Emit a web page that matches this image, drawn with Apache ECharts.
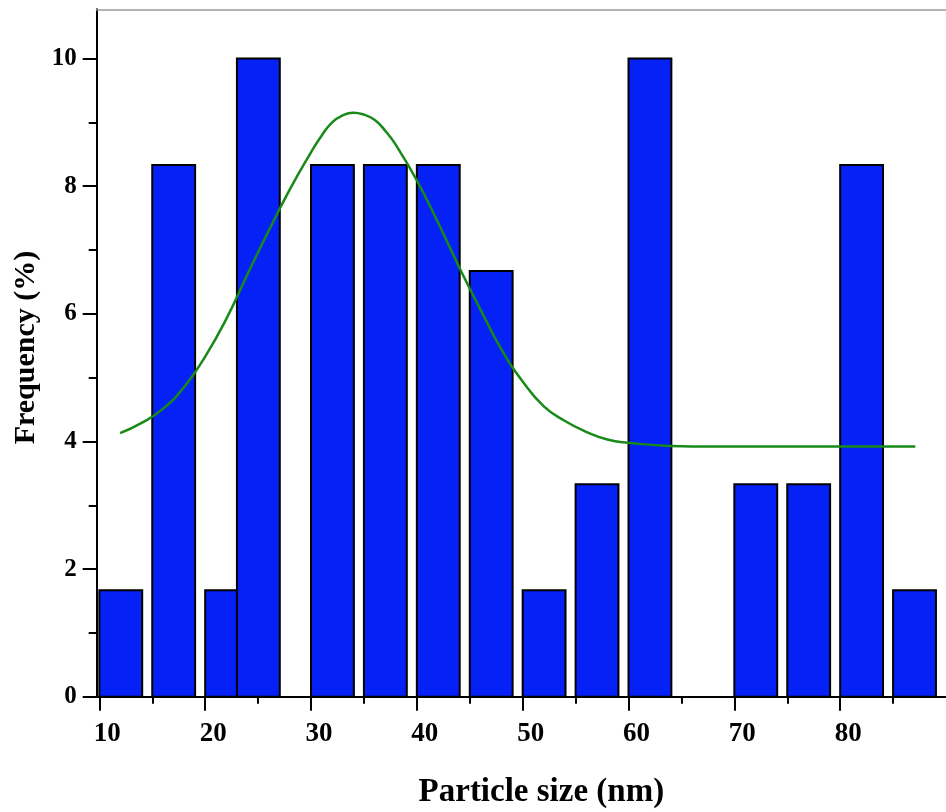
<!DOCTYPE html>
<html>
<head>
<meta charset="utf-8">
<title>Particle size distribution</title>
<script src="https://cdn.jsdelivr.net/npm/echarts@6/dist/echarts.min.js"></script>
<style>
  html, body { margin: 0; padding: 0; background: #ffffff; }
  #chart { width: 946px; height: 812px; }
</style>
</head>
<body>
<div id="chart"></div>
<script>
// Histogram bins: left edge, right edge (nm) and frequency (%)
const binStart = [10, 15, 20, 23, 30, 35, 40, 45, 50, 55, 60, 70, 75, 80, 85];
const binEnd   = [14.05, 19.05, 24.05, 27.05, 34.05, 39.05, 44.05, 49.05, 54.05, 59.05, 64.05, 74.05, 79.05, 84.05, 89.05];
const frequency = [1.67, 8.33, 1.67, 10, 8.33, 8.33, 8.33, 6.67, 1.67, 3.33, 10, 3.33, 3.33, 8.33, 1.67];

// Fitted distribution curve, sampled points
const curveX = [11.96, 14, 16, 18, 20, 22, 24, 26, 28, 30, 31, 32, 33, 34, 35, 36, 37, 38, 40, 42, 44, 46, 48, 50, 52, 54, 56, 58, 60, 64, 68, 87.1];
const curveY = [4.13, 4.29, 4.51, 4.85, 5.33, 5.92, 6.62, 7.30, 7.95, 8.53, 8.79, 9.00, 9.11, 9.15, 9.12, 9.04, 8.87, 8.65, 8.09, 7.43, 6.73, 6.07, 5.44, 4.94, 4.55, 4.32, 4.15, 4.03, 3.98, 3.93, 3.92, 3.92];

// Axis ticks and labels
const xMajorTicks = [10, 20, 30, 40, 50, 60, 70, 80];
const xMinorTicks = [15, 25, 35, 45, 55, 65, 75, 85];
const yMajorTicks = [0, 2, 4, 6, 8, 10];
const yMinorTicks = [1, 3, 5, 7, 9];

const X_MIN = 9.75, X_MAX = 90;
const Y_MIN = 0, Y_MAX = 10.77;

const barData = binStart.map((s, i) => [s, binEnd[i], frequency[i]]);
const curveData = curveX.map((x, i) => [x, curveY[i]]);

const FONT = '"Liberation Serif", "Times New Roman", serif';
const AXIS_COLOR = '#000000';

const chart = echarts.init(document.getElementById('chart'), null, { renderer: 'canvas' });

chart.setOption({
  backgroundColor: '#ffffff',
  animation: false,
  grid: { left: 96.7, right: 0, top: 9.3, bottom: 115.2, containLabel: false, outerBoundsMode: 'none' },
  xAxis: [
    {
      type: 'value', position: 'bottom', min: X_MIN, max: X_MAX,
      name: 'Particle size (nm)', nameLocation: 'middle', nameGap: 79,
      nameTextStyle: { fontFamily: FONT, fontWeight: 'bold', fontSize: 33, color: '#000', padding: [0, 0, 0, 40] },
      axisLine: { show: true, onZero: false, lineStyle: { color: AXIS_COLOR, width: 2 } },
      axisTick: { show: true, inside: false, length: 14, lineStyle: { color: AXIS_COLOR, width: 2 }, customValues: xMajorTicks },
      axisLabel: { show: true, margin: 24, fontFamily: FONT, fontWeight: 'bold', fontSize: 27, color: '#000',
                   padding: [0, 0, 0, 16], customValues: xMajorTicks },
      splitLine: { show: false }
    },
    {
      type: 'value', position: 'bottom', offset: 0, min: X_MIN, max: X_MAX,
      axisLine: { show: false },
      axisTick: { show: true, inside: false, length: 7, lineStyle: { color: AXIS_COLOR, width: 2 }, customValues: xMinorTicks },
      axisLabel: { show: false },
      splitLine: { show: false }
    },
    {
      type: 'value', position: 'top', min: X_MIN, max: X_MAX,
      axisLine: { show: true, onZero: false, lineStyle: { color: '#9a9a9a', width: 1.5 } },
      axisTick: { show: false },
      axisLabel: { show: false },
      splitLine: { show: false }
    }
  ],
  yAxis: [
    {
      type: 'value', position: 'left', min: Y_MIN, max: Y_MAX,
      name: 'Frequency (%)', nameLocation: 'middle', nameGap: 54,
      nameTextStyle: { fontFamily: FONT, fontWeight: 'bold', fontSize: 30, color: '#000', padding: [0, 0, 0, 11] },
      axisLine: { show: true, onZero: false, lineStyle: { color: AXIS_COLOR, width: 2 } },
      axisTick: { show: true, inside: false, length: 14, lineStyle: { color: AXIS_COLOR, width: 2 }, customValues: yMajorTicks },
      axisLabel: { show: true, margin: 20, fontFamily: FONT, fontWeight: 'bold', fontSize: 25, color: '#000',
                   padding: [6, 0, 0, 0], customValues: yMajorTicks },
      splitLine: { show: false }
    },
    {
      type: 'value', position: 'left', offset: 0, min: Y_MIN, max: Y_MAX,
      axisLine: { show: false },
      axisTick: { show: true, inside: false, length: 8, lineStyle: { color: AXIS_COLOR, width: 2 }, customValues: yMinorTicks },
      axisLabel: { show: false },
      splitLine: { show: false }
    }
  ],
  series: [
    {
      type: 'custom',
      name: 'Frequency',
      xAxisIndex: 0, yAxisIndex: 0,
      data: barData,
      encode: { x: [0, 1], y: 2 },
      renderItem: function (params, api) {
        const topLeft = api.coord([api.value(0), api.value(2)]);
        const bottomRight = api.coord([api.value(1), 0]);
        return {
          type: 'rect',
          shape: {
            x: topLeft[0], y: topLeft[1],
            width: bottomRight[0] - topLeft[0],
            height: bottomRight[1] - topLeft[1]
          },
          style: { fill: '#0521f6', stroke: '#000000', lineWidth: 2 }
        };
      },
      z: 2
    },
    {
      type: 'line',
      name: 'Fit',
      xAxisIndex: 0, yAxisIndex: 0,
      data: curveData,
      smooth: 0.5,
      showSymbol: false,
      symbol: 'none',
      lineStyle: { color: '#188a18', width: 2.5 },
      z: 5
    }
  ]
});
</script>
</body>
</html>
